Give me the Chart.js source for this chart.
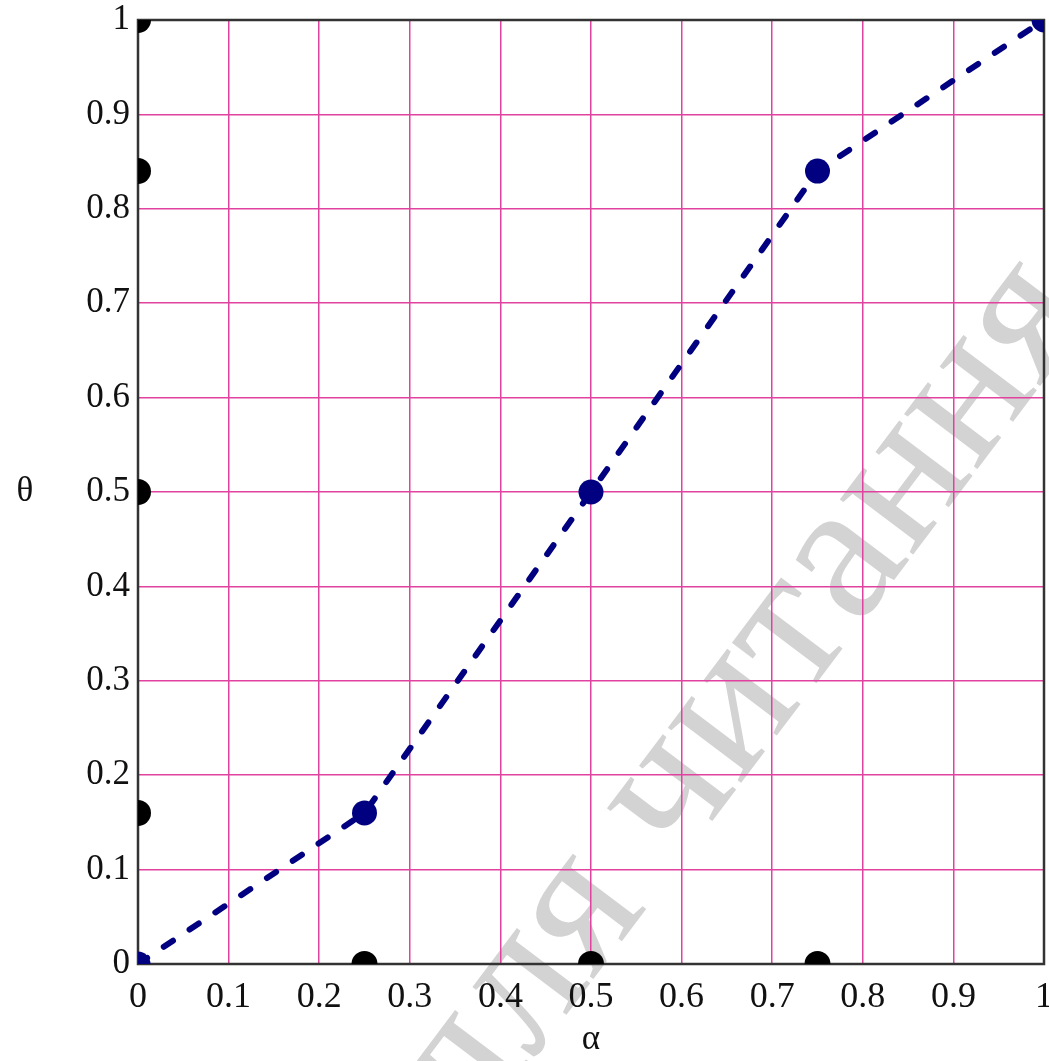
<!DOCTYPE html>
<html>
<head>
<meta charset="utf-8">
<script src="https://cdn.jsdelivr.net/npm/chart.js"></script>
<style>
  html, body { margin: 0; padding: 0; background: #fff; overflow: hidden; }
  #wrap { width: 1057px; height: 1061px; position: relative; }
</style>
</head>
<body>
<div id="wrap"><canvas id="chart"></canvas></div>
<script>
// curve values
const curveAlpha = [0, 0.25, 0.5, 0.75, 1];
const curveTheta = [0, 0.16, 0.5, 0.84, 1];
// black markers on the axes
const leftAxisTheta = [1, 0.84, 0.5, 0.16];
const bottomAxisAlpha = [0.25, 0.5, 0.75];
// tick labels
const xTickLabels = ['0', '0.1', '0.2', '0.3', '0.4', '0.5', '0.6', '0.7', '0.8', '0.9', '1'];
const yTickLabels = ['0', '0.1', '0.2', '0.3', '0.4', '0.5', '0.6', '0.7', '0.8', '0.9', '1'];
const xTitle = 'α';
const yTitle = 'θ';
const watermark = 'для читання';

const serif = "'Liberation Serif', 'Times New Roman', serif";
const gridColor = '#e2429f';

const curvePoints = curveAlpha.map((a, i) => ({ x: a, y: curveTheta[i] }));
const axisPoints = leftAxisTheta.map(t => ({ x: 0, y: t }))
  .concat(bottomAxisAlpha.map(a => ({ x: a, y: 0 })));

// background, watermark, frame and the un-rotated y title
const decor = {
  id: 'decor',
  beforeDraw(chart) {
    const ctx = chart.ctx;
    ctx.save();
    ctx.fillStyle = '#fff';
    ctx.fillRect(0, 0, chart.width, chart.height);
    const F = 200;
    ctx.font = F + 'px ' + serif;
    ctx.fillStyle = '#d3d3d3';
    ctx.translate(584, 915);
    ctx.rotate(-53 * Math.PI / 180);
    const off = ctx.measureText('дл').width + ctx.measureText('я').width / 2;
    ctx.textBaseline = 'alphabetic';
    ctx.fillText(watermark, -off, 0.23 * F);
    ctx.restore();
  },
  beforeDatasetsDraw(chart) {
    const { ctx, chartArea: a } = chart;
    ctx.save();
    ctx.strokeStyle = '#333';
    ctx.lineWidth = 2.5;
    ctx.strokeRect(a.left, a.top, a.right - a.left, a.bottom - a.top);
    ctx.restore();
  },
  afterDraw(chart) {
    const { ctx, chartArea: a } = chart;
    ctx.save();
    ctx.font = '35px ' + serif;
    ctx.fillStyle = '#111';
    ctx.textAlign = 'center';
    ctx.textBaseline = 'middle';
    ctx.fillText(yTitle, 25, (a.top + a.bottom) / 2);
    ctx.restore();
  }
};

new Chart(document.getElementById('chart'), {
  type: 'scatter',
  data: {
    datasets: [
      {
        data: curvePoints,
        showLine: true,
        tension: 0,
        borderColor: '#000080',
        backgroundColor: '#000080',
        borderWidth: 6,
        borderDash: [11, 20],
        borderCapStyle: 'round',
        pointRadius: 12.5,
        pointHoverRadius: 12.5,
        pointBorderWidth: 0,
        clip: 0,
        order: 1
      },
      {
        data: axisPoints,
        showLine: false,
        backgroundColor: '#000',
        borderColor: '#000',
        pointRadius: 13,
        pointHoverRadius: 13,
        pointBorderWidth: 0,
        clip: 0,
        order: 2
      }
    ]
  },
  options: {
    responsive: true,
    maintainAspectRatio: false,
    animation: false,
    layout: { padding: { left: 0, top: 20, right: 0, bottom: 0 } },
    plugins: { legend: { display: false }, tooltip: { enabled: false } },
    scales: {
      x: {
        type: 'linear',
        min: 0,
        max: 1,
        border: { display: false },
        grid: {
          color: gridColor,
          lineWidth: 1.5,
          drawTicks: true,
          tickLength: 12,
          tickColor: 'rgba(0,0,0,0)'
        },
        ticks: {
          stepSize: 0.1,
          padding: 0,
          color: '#111',
          maxRotation: 0,
          autoSkip: false,
          font: { family: serif, size: 36 },
          callback: (v, i) => xTickLabels[i]
        },
        title: {
          display: true,
          text: xTitle,
          color: '#111',
          font: { family: serif, size: 35 },
          padding: { top: 0, bottom: 0 }
        },
        afterFit(scale) {
          scale.height = 97;
        }
      },
      y: {
        type: 'linear',
        min: 0,
        max: 1,
        border: { display: false },
        grid: { color: gridColor, lineWidth: 1.5, drawTicks: false },
        ticks: {
          stepSize: 0.1,
          padding: 8,
          color: '#111',
          autoSkip: false,
          font: { family: serif, size: 35 },
          callback: (v, i) => yTickLabels[i]
        },
        afterFit(scale) {
          scale.width = 138;
          scale.paddingTop = 0;
          scale.paddingBottom = 0;
        }
      }
    }
  },
  plugins: [decor]
});
</script>
</body>
</html>
